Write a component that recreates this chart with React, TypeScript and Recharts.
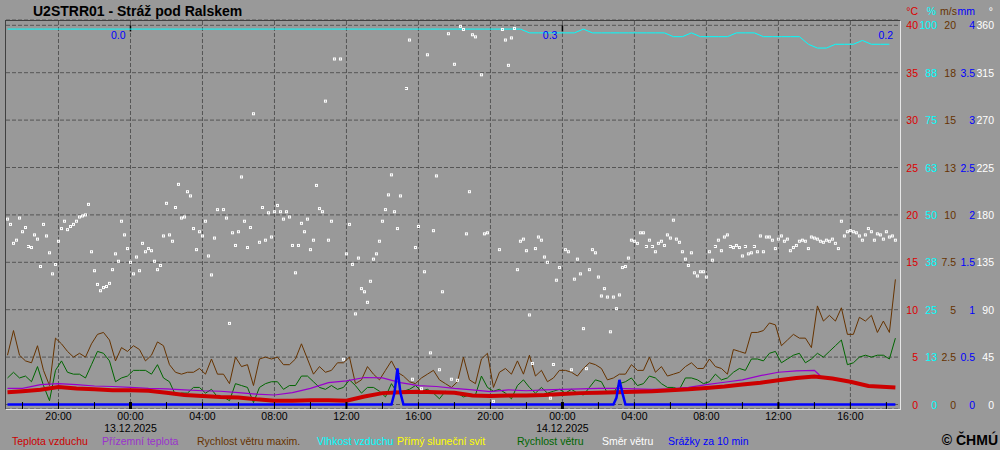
import React from "react";
import {
  ComposedChart,
  Line,
  Scatter,
  XAxis,
  YAxis,
  CartesianGrid,
  ReferenceLine,
  ReferenceDot,
} from "recharts";

// time axis: hours counted from 12.12.2025 00:00
const T0 = 17 + 10 / 60; // first 10-min record, 12.12. 17:10
const days = ["12.12.2025", "13.12.2025", "14.12.2025"];

// wind, every 20 min from 17:10 (m/s)
const windGust = [
  2.6, 3.9, 2.6, 2.3, 2.2, 3.1, 1.8, 1.0, 3.5, 3.2,
  2.8, 2.5, 2.7, 2.5, 3.2, 3.7, 3.8, 3.4, 2.3, 3.0,
  2.8, 3.1, 2.9, 2.3, 2.6, 3.3, 3.1, 2.1, 1.7, 1.6,
  1.7, 1.7, 1.9, 1.6, 2.4, 1.6, 1.6, 1.1, 2.5, 2.0,
  2.1, 1.0, 2.4, 2.5, 2.4, 2.5, 2.1, 2.1, 2.4, 3.2,
  2.4, 1.6, 2.0, 1.7, 1.8, 2.2, 2.2, 2.5, 1.1, 1.3,
  2.0, 1.6, 1.3, 1.8, 2.3, 1.7, 1.5, 1.2, 1.1, 1.4,
  1.6, 1.8, 1.3, 1.1,
  0.9, 1.2, 2.5, 1.3, 1.1, 2.4, 2.7, 0.9, 1.7, 1.9,
  1.6, 2.3, 1.6, 2.6, 1.5, 1.8, 1.2, 1.4, 1.8, 1.8,
  1.7, 1.5, 1.9, 2.2, 2.1, 1.9, 1.3, 1.4, 1.6, 1.6,
  2.1, 1.8, 1.8, 2.5, 1.7, 2.0, 1.5, 1.6, 1.7, 2.0,
  2.2, 1.9, 1.9, 2.4, 2.0, 1.9, 1.6, 2.9, 2.8, 2.7,
  3.8, 3.8, 3.9, 4.3, 4.2, 3.1, 3.4, 3.7, 3.5, 3.5,
  3.0, 5.2, 4.4, 4.7, 4.4, 5.1, 3.7, 3.7, 4.6, 4.4,
  4.7, 3.8, 4.4, 3.8, 6.6,
];
const windSpeed = [
  1.4, 1.7, 1.4, 1.5, 1.2, 2.0, 1.0, 0.2, 1.8, 2.3,
  1.7, 1.6, 1.6, 1.4, 2.1, 2.8, 2.7, 2.3, 1.2, 1.4,
  1.5, 1.8, 1.8, 1.8, 1.6, 2.1, 1.4, 1.2, 0.5, 0.6,
  0.6, 0.9, 0.9, 0.6, 0.8, 0.4, 0.4, 0.2, 1.1, 1.0,
  0.9, 0.1, 0.9, 1.1, 1.2, 1.2, 0.8, 1.0, 1.0, 1.5,
  1.5, 1.2, 0.9, 0.8, 1.0, 0.8, 0.9, 1.3, 1.0, 0.6,
  0.9, 0.9, 0.7, 0.4, 1.1, 0.6, 0.7, 0.8, 1.0, 0.7,
  0.8, 0.6, 0.3, 0.7,
  0.6, 0.6, 0.4, 0.5, 0.5, 1.5, 0.9, 0.7, 0.8, 0.6,
  0.3, 1.0, 1.3, 0.9, 0.6, 0.9, 0.6, 0.7, 0.8, 0.6,
  0.8, 0.6, 0.5, 0.9, 1.3, 1.2, 0.6, 0.6, 1.1, 1.2,
  1.4, 1.0, 1.1, 1.5, 1.4, 1.1, 0.9, 0.9, 0.8, 1.4,
  1.4, 1.3, 1.1, 1.2, 1.6, 1.3, 1.4, 1.7, 1.9, 1.8,
  2.4, 2.4, 2.3, 2.7, 2.8, 2.2, 2.4, 2.6, 2.7, 2.2,
  2.4, 2.7, 2.5, 2.8, 3.1, 3.4, 2.1, 2.2, 2.5, 2.6,
  2.5, 2.6, 2.6, 2.4, 3.5,
];

// wind direction every 10 min from 17:10 (°), null = no reading
const windDir = [
  176, 171, 153, 156, 177, 164, 168, 150, 149, 161,
  157, 131, 171, 160, 144, 124, 133, 155, 167, 174,
  166, 169, 171, 174, 178, 179, 180, 190, 145, 127,
  114, 108, 111, 112, 115, 128, 143, 136, 174, 161,
  148, 135, 124, 140, 127, 153, 145, 148, 146, 136,
  128, 132, 160, 191, 161, 155, 187, 209, 177, 178,
  202, 198, 167, 147, 164, 160, 174, 141, 123, 158,
  185, null, 185, 177, 77, 163, 151, 164, 216, 174,
  149, 168, 276, null, 154, 187, 156, 182, 159, 183,
  189, 183, 176, 183, 178, 151, 125, 151,
  172, 164, 176, 147, 156, 208, 186, 183, 288, 156,
  174, 328, null, 328, 43, 143, 171, 133, 86, 139,
  110, 107, 97, 117, 138, 143, 155, 174, 185, 199,
  218, 183, 167, 198, null, 300, 346, 24, 149, 169,
  15, 126, 332, 49, 165, 217, 33, 107, null, 352,
  24, 323, 23, 359, 356, 162, 202, 351, 349, null,
  313, 162, 163, null, 3, null, 147, 356, 346, 322,
  348, 357, 128, 155, 157, 146, 85, 39, 148, 159,
  156, 140, 135, 6, 38, 118, 130, null, 147, 145,
  33, 119, 138, 124, 72, 34, 128, 147, 144, 121,
  103, 110, 102, 69, 102, 91, 104, 130, 131, 139,
  156, 155, 153, 163, 163, 150, 156, 150, 145, 153,
  155, 151, 161, 158, 175, 157, 154, 145, 138, 132,
  144, 125, 122, 126, 126, 121, 145, 137, 150, 156,
  146, 159, 161, 150, 149, 151, 149, 141, 150, 143,
  144, 150, 145, 160, 145, 159, 159, 156, 148, 157,
  160, 155, 157, 146, 149, 151, 155, 156, 155, 148,
  159, 158, 157, 155, 154, 156, 155, 157, 153, 148,
  174, 160, 164, 165, 164, 163, 160, 156, 161, 167,
  164, 156, 162, 161, 157, 164, 159, 160, 156,
];

// air temperature: 17:10, then every full hour 18:00 (12.12.) .. 18:00 (14.12.), 18:30 (°C)
const airTemp = [
  1.3,
  1.4, 1.55, 1.85, 1.7, 1.6, 1.5, 1.5, 1.45, 1.25, 1.0,
  0.9, 0.8, 0.75, 0.55, 0.4, 0.4, 0.45, 0.45, 0.4, 0.85,
  1.2, 1.3, 1.35, 1.3, 1.25, 0.95, 0.9, 0.95, 0.95, 1.0,
  1.1, 1.2, 1.25, 1.3, 1.35, 1.4, 1.5, 1.6, 1.75, 1.9,
  2.1, 2.3, 2.55, 2.8, 2.95, 2.75, 2.4, 1.95, 1.85,
  1.8,
];
// ground temperature: 17:10, then hourly 18:00 .. 14:00 (14.12.), 14:20 (°C)
const groundTemp = [
  1.7,
  1.7, 2.1, 2.2, 2.1, 1.95, 1.9, 1.8, 1.7, 1.65, 1.55,
  1.45, 1.4, 1.25, 1.1, 1.0, 1.25, 1.7, 2.3, 2.5, 2.85,
  2.8, 2.3, 2.0, 1.9, 1.7, 1.55, 1.35, 1.55, 1.45, 1.55,
  1.6, 1.65, 1.7, 1.7, 1.65, 1.6, 1.65, 1.8, 2.1, 2.35,
  2.6, 3.05, 3.4, 3.55, 3.6,
  3.0,
];

// relative humidity every 30 min from 17:10 (%)
const humidity = [
  99, 99, 99, 99, 99, 99, 99, 99, 99, 99,
  99, 99, 99, 99, 99, 99, 99, 99, 99, 99,
  99, 99, 99, 99, 99, 99, 99, 99, 99, 99,
  99, 99, 99, 99, 99, 99, 99, 99, 99, 99,
  99, 99, 99, 99, 99, 99, 99, 99, 99, 99,
  99, 99, 99, 99, 99, 99, 99, 99, 98, 98,
  98, 98, 98, 98, 99, 98, 98, 98, 98, 98,
  98, 98, 98, 98, 97, 97, 98, 97, 97, 97,
  97, 98, 98, 98, 97, 97, 97, 97, 97, 95,
  94, 94, 95, 95, 95, 96, 95, 95, 95,
];

// precipitation per 10 min (mm), given at 10-min record numbers counted from 17:10
const precipAt = [0, 128, 129, 130, 131, 132, 202, 203, 204, 205, 206, 296];
const precipMm = [0, 0, 0.12, 0.38, 0.12, 0, 0, 0.07, 0.26, 0.12, 0, 0];

// daily precipitation totals, shown at the end of each day
const dayTotalAt = [24, 48, 66.65];
const dayTotals = ["0.0", "0.3", "0.2"];

const FONT = '"Liberation Sans", Arial, sans-serif';
const RED = "#cc0000";
const PURPLE = "#9900cc";
const BROWN = "#663300";
const CYAN = "#00ffff";
const GREEN = "#006600";
const BLUE = "#0000ff";

const series = (times: number[], values: (number | null)[]) =>
  values
    .map((v, i) => ({ t: times[i], v }))
    .filter((p) => p.v !== null && p.t !== undefined);

const step = (n: number, minutes: number) =>
  Array.from({ length: n }, (_, i) => T0 + (i * minutes) / 60);

const hourly = (from: number, to: number) =>
  Array.from({ length: to - from + 1 }, (_, i) => from + i);

const airData = series([T0, ...hourly(18, 66), 66.5], airTemp);
const groundData = series([T0, ...hourly(18, 62), 62 + 20 / 60], groundTemp);
const humData = series(step(humidity.length, 30), humidity);
const gustData = series(step(windGust.length, 20), windGust);
const speedData = series(step(windSpeed.length, 20), windSpeed);
const dirData = series(step(windDir.length, 10), windDir);
const rainData = series(
  precipAt.map((k) => T0 + k / 6),
  precipMm
);

// plot is 20..409 px tall, value 0 sits at 404.5 and the top tick at 25.3
const LO = -4.5 / 379.2;
const HI = 1 + 5.3 / 379.2;
const dom = (max: number) => [max * LO, max * HI];
const steps = (max: number) => Array.from({ length: 9 }, (_, i) => (max * i) / 8);

const gridHours = [20, 24, 28, 32, 36, 40, 44, 48, 52, 56, 60, 64];
const tickHours = hourly(9, 33).map((h) => h * 2);

const pad = (n: number) => String(n).padStart(2, "0");

function TimeTick(props: any) {
  const { x, y, payload } = props;
  const h = payload.value;
  const hh = h % 24;
  const w = hh === 0 ? 3 : hh === 12 ? 2 : 1;
  return (
    <g>
      <line x1={x} x2={x} y1={y - 7} y2={y + (w > 1 ? 1 : 0)} stroke="#000" strokeWidth={w} />
      {h % 4 === 0 && (
        <text x={x} y={y + 10.5} textAnchor="middle" fill="#000" fontFamily={FONT} fontSize={10.5}>
          {pad(hh)}:00
        </text>
      )}
      {hh === 0 && (
        <text x={x} y={y + 22.7} textAnchor="middle" fill="#000" fontFamily={FONT} fontSize={10.5}>
          {days[Math.floor(h / 24)]}
        </text>
      )}
    </g>
  );
}

const valueTick =
  (color: string, width: number, fmt: (v: number) => string) => (props: any) => {
    const { x, y, payload } = props;
    return (
      <text x={x + width - 1} y={y + 4} textAnchor="end" fill={color} fontFamily={FONT} fontSize={10.5}>
        {fmt(payload.value)}
      </text>
    );
  };

const plain = (v: number) => String(v);
const rounded = (v: number) => String(Math.round(v));
const windFmt = (v: number) => (v >= 10 ? String(Math.round(v)) : String(v));

const Square = (props: any) => {
  const { cx, cy } = props;
  if (cx == null || cy == null) return <g />;
  return <rect x={cx - 1} y={cy - 1} width={2} height={2} fill="none" stroke="#ffffff" strokeWidth={1} />;
};

const legend = [
  { x: 12, text: "Teplota vzduchu", color: RED },
  { x: 102, text: "Přízemní teplota", color: "#9933cc" },
  { x: 197, text: "Rychlost větru maxim.", color: BROWN },
  { x: 317, text: "Vlhkost vzduchu", color: CYAN },
  { x: 397, text: "Přímý sluneční svit", color: "#ffff00" },
  { x: 517, text: "Rychlost větru", color: GREEN },
  { x: 602, text: "Směr větru", color: "#ffffff" },
  { x: 668, text: "Srážky za 10 min", color: BLUE },
];

const units = [
  { x: 918, text: "°C", color: "#dd0000" },
  { x: 936, text: "%", color: CYAN },
  { x: 957, text: "m/s", color: BROWN },
  { x: 975, text: "mm", color: BLUE },
  { x: 993, text: "°", color: "#ffffff" },
];

// right-hand value columns, ordered from the plot outwards (ids sort in this order)
const TEMP = "y1";
const HUM = "y2";
const WIND = "y3";
const RAIN = "y4";
const DIR = "y5";

const axisProps = {
  orientation: "right" as const,
  allowDataOverflow: true,
  interval: 0 as const,
  axisLine: false,
  tickLine: false,
  tickSize: 0,
  tickMargin: 0,
};

export default function App() {
  return (
    <div
      style={{
        position: "absolute",
        left: 0,
        top: 0,
        width: 1000,
        height: 450,
        background: "#999999",
        overflow: "hidden",
      }}
    >
      <ComposedChart width={1000} height={450} margin={{ top: 20, right: 5, bottom: 11, left: 6 }}>
        <CartesianGrid yAxisId={TEMP} vertical={false} stroke="#555555" strokeDasharray="4 2" />
        <XAxis
          dataKey="t"
          type="number"
          domain={[17 + 5 / 60, 66.7]}
          allowDataOverflow
          ticks={tickHours}
          interval={0}
          tick={<TimeTick />}
          tickLine={false}
          axisLine={false}
          tickSize={0}
          tickMargin={0}
          height={30}
        />
        <YAxis yAxisId={TEMP} {...axisProps} domain={dom(40)} ticks={steps(40)} width={20}
          tick={valueTick("#dd0000", 20, plain)} />
        <YAxis yAxisId={HUM} {...axisProps} domain={dom(100)} ticks={steps(100)} width={19}
          tick={valueTick(CYAN, 19, rounded)} />
        <YAxis yAxisId={WIND} {...axisProps} domain={dom(20)} ticks={steps(20)} width={19}
          tick={valueTick(BROWN, 19, windFmt)} />
        <YAxis yAxisId={RAIN} {...axisProps} domain={dom(4)} ticks={steps(4)} width={19}
          tick={valueTick(BLUE, 19, plain)} />
        <YAxis yAxisId={DIR} {...axisProps} domain={dom(360)} ticks={steps(360)} width={19}
          tick={valueTick("#ffffff", 19, plain)} />

        {gridHours.map((h) => (
          <ReferenceLine key={h} x={h} yAxisId={TEMP} stroke="#555555" strokeDasharray="4 2" />
        ))}
        {[24, 48].map((h) => (
          <ReferenceLine
            key={`d${h}`}
            yAxisId={TEMP}
            segment={[
              { x: h, y: 40 },
              { x: h, y: 39.35 },
            ]}
            stroke="#000"
            strokeWidth={1.5}
          />
        ))}

        <Line data={humData} yAxisId={HUM} dataKey="v" type="linear" stroke={CYAN} strokeWidth={1} dot={false} isAnimationActive={false} />
        <Line data={gustData} yAxisId={WIND} dataKey="v" type="linear" stroke={BROWN} strokeWidth={1} dot={false} isAnimationActive={false} />
        <Line data={speedData} yAxisId={WIND} dataKey="v" type="linear" stroke={GREEN} strokeWidth={1} dot={false} isAnimationActive={false} />
        <Line data={groundData} yAxisId={TEMP} dataKey="v" type="linear" stroke={PURPLE} strokeWidth={1.2} dot={false} isAnimationActive={false} />
        <Line data={airData} yAxisId={TEMP} dataKey="v" type="linear" stroke={RED} strokeWidth={4} dot={false} isAnimationActive={false} />
        <Scatter data={dirData} yAxisId={DIR} dataKey="v" shape={Square} isAnimationActive={false} />
        <Line data={rainData} yAxisId={RAIN} dataKey="v" type="linear" stroke={BLUE} strokeWidth={2.5} dot={false} isAnimationActive={false} />

        {dayTotalAt.map((h, i) => (
          <ReferenceDot
            key={`s${h}`}
            x={h}
            y={39}
            yAxisId={TEMP}
            r={0}
            fill="none"
            stroke="none"
            label={{ value: dayTotals[i], position: "left", fill: BLUE, fontSize: 10.5, fontFamily: FONT }}
          />
        ))}
      </ComposedChart>

      <svg
        width={1000}
        height={450}
        style={{ position: "absolute", left: 0, top: 0, pointerEvents: "none" }}
      >
        <text x={33} y={16} fontFamily={FONT} fontSize={14} fontWeight="bold" fill="#000">
          U2STRR01 - Stráž pod Ralskem
        </text>
        {units.map((u) => (
          <text key={u.text} x={u.x} y={15} textAnchor="end" fontFamily={FONT} fontSize={10.5} fill={u.color}>
            {u.text}
          </text>
        ))}
        {legend.map((l) => (
          <text key={l.text} x={l.x} y={445} fontFamily={FONT} fontSize={10.5} fill={l.color}>
            {l.text}
          </text>
        ))}
        <text x={998} y={445} textAnchor="end" fontFamily={FONT} fontSize={14} fontWeight="bold" fill="#000">
          © ČHMÚ
        </text>
      </svg>

      <div
        style={{
          position: "absolute",
          left: 5,
          top: 20,
          width: 896,
          height: 390,
          boxSizing: "border-box",
          borderTop: "1px solid #404040",
          borderLeft: "1px solid #404040",
          borderRight: "1px solid #e6e6e6",
          borderBottom: "1px solid #e6e6e6",
          pointerEvents: "none",
        }}
      />
    </div>
  );
}
